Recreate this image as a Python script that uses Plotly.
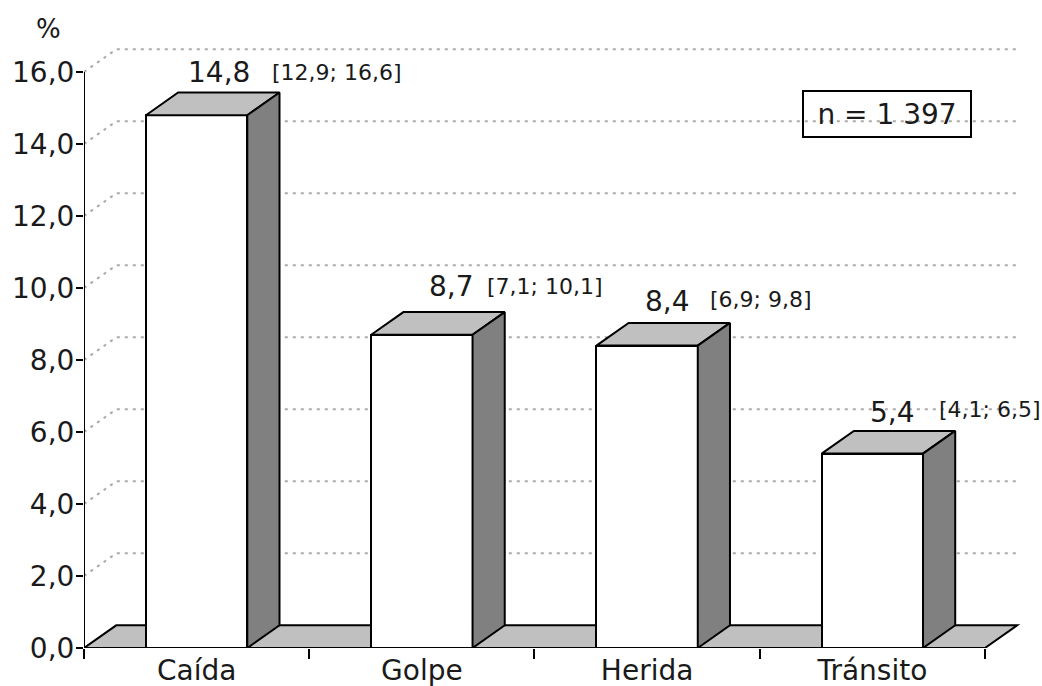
import plotly.graph_objects as go

# ---- data ----
categories = ["Caída", "Golpe", "Herida", "Tránsito"]
values = [14.8, 8.7, 8.4, 5.4]
ci_low = [12.9, 7.1, 6.9, 4.1]
ci_high = [16.6, 10.1, 9.8, 6.5]
n_total = 1397
y_ticks = [0, 2, 4, 6, 8, 10, 12, 14, 16]
y_title = "%"

# ---- styling / layout constants ----
BAR_W = 0.45
DX = 0.143   # depth offset in x (category units)
DY = 0.63    # depth offset in y (value units)
FONT = "DejaVu Sans"
TXT = "#1a1a1a"
TOP_COL = "#c0c0c0"
SIDE_COL = "#808080"
FLOOR_COL = "#c0c0c0"
GRID_COL = "#a9a9a9"
# per-label pixel offsets (label placement)
val_xshift = [22, 30, 20, 20]
val_yshift = [20, 26, 21, 18]
ci_xshift = [73, 63, 61, 65]
ci_yshift = [20, 26, 23, 21]

def fmt(v):
    return f"{v:.1f}".replace(".", ",")

xs = list(range(len(categories)))
x_lo, x_hi = -0.5, len(categories) - 0.5

fig = go.Figure()

shapes = []
# back-wall gridlines (dotted), drawn below traces
for t in y_ticks[1:]:
    shapes.append(dict(type="path", xref="x", yref="y", layer="below",
                       path=f"M {x_lo},{t} L {x_lo+DX},{t+DY} L {x_hi+DX},{t+DY}",
                       line=dict(color=GRID_COL, width=2, dash="3px,5px")))
# floor
shapes.append(dict(type="path", xref="x", yref="y", layer="below",
                   path=f"M {x_lo},0 L {x_hi},0 L {x_hi+DX},{DY} L {x_lo+DX},{DY} Z",
                   fillcolor=FLOOR_COL, line=dict(color="black", width=2)))

# front faces
fig.add_trace(go.Bar(x=xs, y=values, width=BAR_W,
                     marker=dict(color="white", line=dict(color="black", width=2)),
                     hoverinfo="skip", showlegend=False))

# top and side faces
for x, v in zip(xs, values):
    l, r = x - BAR_W / 2, x + BAR_W / 2
    fig.add_trace(go.Scatter(
        x=[l, r, r + DX, l + DX, l], y=[v, v, v + DY, v + DY, v],
        mode="lines", fill="toself", fillcolor=TOP_COL,
        line=dict(color="black", width=2), hoverinfo="skip", showlegend=False))
    fig.add_trace(go.Scatter(
        x=[r, r, r + DX, r + DX, r], y=[0, v, v + DY, DY, 0],
        mode="lines", fill="toself", fillcolor=SIDE_COL,
        line=dict(color="black", width=2), hoverinfo="skip", showlegend=False))

# axis lines
fig.add_trace(go.Scatter(x=[x_lo, x_lo], y=[0, y_ticks[-1]], mode="lines",
                         line=dict(color="black", width=2), cliponaxis=False,
                         hoverinfo="skip", showlegend=False))
fig.add_trace(go.Scatter(x=[x_lo, x_hi], y=[0, 0], mode="lines",
                         line=dict(color="black", width=2), cliponaxis=False,
                         hoverinfo="skip", showlegend=False))

annotations = []
for i, (x, v) in enumerate(zip(xs, values)):
    annotations.append(dict(x=x, y=v + DY, xref="x", yref="y", text=fmt(v),
                            showarrow=False, xanchor="center", yanchor="middle",
                            xshift=val_xshift[i], yshift=val_yshift[i],
                            font=dict(family=FONT, size=28, color=TXT)))
    annotations.append(dict(x=x, y=v + DY, xref="x", yref="y",
                            text=f"[{fmt(ci_low[i])}; {fmt(ci_high[i])}]",
                            showarrow=False, xanchor="left", yanchor="middle",
                            xshift=ci_xshift[i], yshift=ci_yshift[i],
                            font=dict(family=FONT, size=22, color=TXT)))
# n box
annotations.append(dict(x=3.065, y=14.83, xref="x", yref="y",
                        text="n = " + f"{n_total:,}".replace(",", " "),
                        showarrow=False, xanchor="center", yanchor="middle",
                        width=158, height=36, borderpad=4,
                        bordercolor="black", borderwidth=2,
                        font=dict(family=FONT, size=28, color=TXT)))
# y title
annotations.append(dict(x=-0.037, y=1.018, xref="paper", yref="paper", text=y_title,
                        showarrow=False, xanchor="center", yanchor="middle",
                        font=dict(family=FONT, size=26, color=TXT)))

fig.update_layout(
    width=1042, height=686,
    margin=dict(l=84, r=12, t=40, b=38, autoexpand=False),
    paper_bgcolor="white", plot_bgcolor="white",
    separators=",.",
    showlegend=False,
    bargap=0,
    shapes=shapes,
    annotations=annotations,
    xaxis=dict(range=[x_lo, 3.7], tickmode="array", tickvals=xs, ticktext=categories,
               ticks="", showgrid=False, zeroline=False, showline=False,
               automargin=False, ticklabelstandoff=3,
               tickfont=dict(family=FONT, size=28, color=TXT),
               minor=dict(tickmode="array",
                          tickvals=[x - 0.5 for x in xs] + [x_hi],
                          ticks="outside", ticklen=10, tickwidth=2, tickcolor="black",
                          showgrid=False)),
    yaxis=dict(range=[0, 608 / 36], tickmode="array", tickvals=y_ticks,
               tickformat=".1f", ticks="outside", ticklen=7, tickwidth=2,
               tickcolor="black", showgrid=False, zeroline=False, showline=False,
               automargin=False, ticklabelstandoff=-4,
               tickfont=dict(family=FONT, size=28, color=TXT)),
)

fig.write_html("out.html")
